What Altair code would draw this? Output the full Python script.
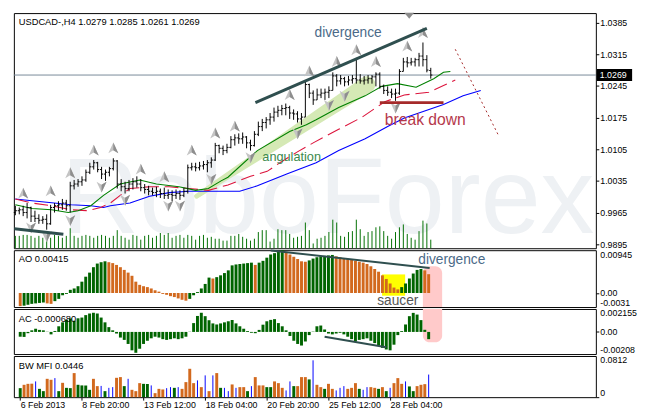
import altair as alt
import pandas as pd

# ---------------- data ----------------
bar_open = [0.9965, 0.9969, 0.9971, 0.9965, 0.9976, 0.9957, 0.9952, 0.9948, 0.9950, 0.9940,
            0.9976, 0.9980, 0.9982, 0.9986, 0.9980, 1.0024, 1.0028, 1.0033, 1.0037, 1.0054,
            1.0066, 1.0075, 1.0060, 1.0050, 1.0054, 1.0062, 1.0079, 1.0028, 1.0022, 1.0018,
            1.0028, 1.0033, 1.0028, 1.0020, 1.0016, 1.0012, 1.0009, 1.0012, 1.0007, 1.0003,
            1.0005, 1.0003, 1.0007, 1.0003, 1.0012, 1.0064, 1.0066, 1.0064, 1.0068, 1.0071,
            1.0075, 1.0081, 1.0113, 1.0107, 1.0102, 1.0109, 1.0126, 1.0130, 1.0128, 1.0132,
            1.0119, 1.0113, 1.0138, 1.0155, 1.0164, 1.0170, 1.0176, 1.0187, 1.0191, 1.0195,
            1.0197, 1.0185, 1.0183, 1.0172, 1.0176, 1.0248, 1.0229, 1.0214, 1.0225, 1.0229,
            1.0231, 1.0235, 1.0267, 1.0256, 1.0261, 1.0254, 1.0258, 1.0261, 1.0258, 1.0256,
            1.0258, 1.0261, 1.0265, 1.0271, 1.0244, 1.0235, 1.0231, 1.0227, 1.0229, 1.0277,
            1.0298, 1.0296, 1.0298, 1.0303, 1.0311, 1.0303, 1.0279]
bar_high = [0.9980, 0.9976, 0.9980, 0.9986, 0.9978, 0.9969, 0.9961, 0.9957, 0.9961, 0.9982,
            0.9986, 0.9990, 0.9995, 0.9993, 1.0033, 1.0037, 1.0039, 1.0045, 1.0060, 1.0075,
            1.0081, 1.0077, 1.0066, 1.0060, 1.0066, 1.0085, 1.0081, 1.0039, 1.0033, 1.0037,
            1.0041, 1.0045, 1.0039, 1.0028, 1.0024, 1.0020, 1.0022, 1.0018, 1.0020, 1.0016,
            1.0014, 1.0016, 1.0014, 1.0020, 1.0071, 1.0075, 1.0075, 1.0077, 1.0079, 1.0081,
            1.0087, 1.0119, 1.0115, 1.0113, 1.0117, 1.0134, 1.0138, 1.0140, 1.0142, 1.0134,
            1.0126, 1.0145, 1.0166, 1.0172, 1.0176, 1.0185, 1.0197, 1.0201, 1.0203, 1.0206,
            1.0201, 1.0193, 1.0189, 1.0185, 1.0254, 1.0250, 1.0235, 1.0239, 1.0239, 1.0239,
            1.0244, 1.0275, 1.0271, 1.0269, 1.0265, 1.0267, 1.0269, 1.0307, 1.0271, 1.0267,
            1.0269, 1.0269, 1.0275, 1.0275, 1.0248, 1.0244, 1.0239, 1.0239, 1.0282, 1.0307,
            1.0309, 1.0307, 1.0307, 1.0318, 1.0341, 1.0313, 1.0285]
bar_low = [0.9959, 0.9961, 0.9957, 0.9952, 0.9944, 0.9944, 0.9940, 0.9940, 0.9927, 0.9938,
           0.9965, 0.9969, 0.9971, 0.9969, 0.9965, 1.0016, 1.0022, 1.0024, 1.0033, 1.0050,
           1.0060, 1.0054, 1.0039, 1.0035, 1.0045, 1.0058, 1.0018, 1.0012, 1.0007, 1.0012,
           1.0016, 1.0020, 1.0012, 1.0007, 1.0003, 1.0003, 0.9999, 0.9997, 0.9995, 0.9995,
           0.9990, 0.9995, 0.9993, 0.9999, 1.0007, 1.0058, 1.0056, 1.0058, 1.0060, 1.0054,
           1.0064, 1.0079, 1.0096, 1.0092, 1.0096, 1.0107, 1.0113, 1.0117, 1.0117, 1.0107,
           1.0102, 1.0111, 1.0134, 1.0145, 1.0151, 1.0159, 1.0166, 1.0176, 1.0180, 1.0180,
           1.0172, 1.0170, 1.0164, 1.0159, 1.0176, 1.0218, 1.0203, 1.0214, 1.0218, 1.0214,
           1.0218, 1.0235, 1.0244, 1.0248, 1.0244, 1.0246, 1.0250, 1.0250, 1.0250, 1.0248,
           1.0250, 1.0250, 1.0244, 1.0239, 1.0227, 1.0223, 1.0218, 1.0212, 1.0225, 1.0277,
           1.0286, 1.0290, 1.0288, 1.0288, 1.0288, 1.0275, 1.0261]
bar_close = [0.9969, 0.9971, 0.9965, 0.9976, 0.9957, 0.9952, 0.9948, 0.9950, 0.9940, 0.9976,
             0.9980, 0.9982, 0.9986, 0.9980, 1.0024, 1.0028, 1.0033, 1.0037, 1.0054, 1.0066,
             1.0075, 1.0060, 1.0050, 1.0054, 1.0062, 1.0079, 1.0028, 1.0022, 1.0018, 1.0028,
             1.0033, 1.0028, 1.0020, 1.0016, 1.0012, 1.0009, 1.0012, 1.0007, 1.0003, 1.0005,
             1.0003, 1.0007, 1.0003, 1.0012, 1.0064, 1.0066, 1.0064, 1.0068, 1.0071, 1.0075,
             1.0081, 1.0113, 1.0107, 1.0102, 1.0109, 1.0126, 1.0130, 1.0128, 1.0132, 1.0119,
             1.0113, 1.0138, 1.0155, 1.0164, 1.0170, 1.0176, 1.0187, 1.0191, 1.0195, 1.0197,
             1.0185, 1.0183, 1.0172, 1.0176, 1.0248, 1.0229, 1.0214, 1.0225, 1.0229, 1.0231,
             1.0235, 1.0267, 1.0256, 1.0261, 1.0254, 1.0258, 1.0261, 1.0258, 1.0256, 1.0258,
             1.0261, 1.0265, 1.0271, 1.0244, 1.0235, 1.0231, 1.0227, 1.0229, 1.0277, 1.0298,
             1.0296, 1.0298, 1.0303, 1.0311, 1.0303, 1.0280, 1.0269]
volume = [1300, 1300, 1400, 1400, 1300, 1100, 1300, 1100, 1300, 1100,
          1400, 1300, 1100, 1300, 2100, 1300, 1100, 1300, 1400, 1300,
          1100, 1300, 1400, 1300, 1100, 1300, 1900, 1300, 1100, 900,
          1400, 1300, 900, 1300, 1400, 1100, 1300, 1600, 1400, 1600,
          1100, 1300, 1400, 1100, 1400, 1300, 900, 1300, 1400, 1100,
          1200, 1000, 1000, 800, 800, 1300, 1300, 1500, 1200, 1000,
          800, 1000, 1700, 1900, 1900, 700, 1000, 2000, 1900, 1900,
          1500, 1100, 1200, 1300, 2700, 1900, 500, 1000, 1100, 1300,
          1700, 3000, 2700, 1300, 1200, 1700, 1800, 3000, 2000, 1300,
          1700, 1800, 2200, 2300, 1800, 1300, 1000, 1700, 2200, 2500,
          1500, 1100, 900, 1800, 2900, 2600, 900]

ao_values = [-0.0029, -0.0028, -0.0026, -0.0024, -0.0023, -0.0022, -0.0021, -0.0023, -0.0024, -0.0018,
             -0.0013, -0.0005, -0.0002, 0.0007, 0.0010, 0.0015, 0.0025, 0.0036, 0.0045, 0.0057,
             0.0065, 0.0068, 0.0070, 0.0068, 0.0066, 0.0062, 0.0057, 0.0051, 0.0045, 0.0038,
             0.0025, 0.0018, 0.0015, 0.0013, 0.0010, 0.0006, 0.0003, -0.0002, -0.0004, -0.0007,
             -0.0009, -0.0012, -0.0015, -0.0017, -0.0013, -0.0005, 0.0002, 0.0010, 0.0020, 0.0034,
             0.0032, 0.0035, 0.0039, 0.0044, 0.0050, 0.0061, 0.0063, 0.0064, 0.0065, 0.0066,
             0.0067, 0.0062, 0.0067, 0.0071, 0.0078, 0.0085, 0.0088, 0.0092, 0.00945, 0.0091,
             0.0085, 0.0080, 0.0075, 0.0070, 0.0069, 0.0072, 0.0076, 0.0079, 0.0081, 0.0082,
             0.0083, 0.0084, 0.0081, 0.0079, 0.0077, 0.0075, 0.0073, 0.0071, 0.0069, 0.0067,
             0.0064, 0.0059, 0.0053, 0.0047, 0.0039, 0.0031, 0.0021, 0.0012, 0.0008, 0.0013,
             0.0021, 0.0032, 0.0043, 0.0051, 0.0053, 0.0050, 0.00415]
ao_colors = list("oggggggoog" "gggggggggg" "gggooooooo" "oooooooooo" "oooogggggg"
                 "oggggggggg" "gogggggggo" "oooooggggg" "ggoooooooo" "ooooooooog" "gggggoo")

ac_values = [-0.00045, -0.00047, -0.00012, 0.00015, 0.00030, 0.00019, 0.00015, 0.00002, -0.00023, 0.00009,
             0.00053, 0.00090, 0.00113, 0.00128, 0.00105, 0.00128, 0.00135, 0.00158, 0.00173, 0.00180,
             0.00173, 0.00135, 0.00090, 0.00045, 0.00015, -0.00015, -0.00053, -0.00075, -0.00113, -0.00173,
             -0.00196, -0.00158, -0.00113, -0.00083, -0.00060, -0.00045, -0.00053, -0.00068, -0.00075, -0.00068,
             -0.00060, -0.00068, -0.00060, -0.00045, 0.00002, 0.00083, 0.00150, 0.00180, 0.00148, 0.00110,
             0.00080, 0.00070, 0.00080, 0.00090, 0.00100, 0.00112, 0.00080, 0.00053, 0.00030, 0.00008,
             -0.00008, -0.00012, 0.00019, 0.00068, 0.00100, 0.00113, 0.00120, 0.00083, 0.00053, 0.00015,
             -0.00038, -0.00083, -0.00113, -0.00128, -0.00090, -0.00030, 0.00003, 0.00053, 0.00060, 0.00023,
             -0.00015, -0.00023, -0.00015, -0.00008, -0.00023, -0.00045, -0.00068, -0.00090, -0.00075, -0.00068,
             -0.00060, -0.00083, -0.00105, -0.00128, -0.00150, -0.00165, -0.00173, -0.00120, -0.00030, 0.00008,
             0.00070, 0.00148, 0.00179, 0.00163, 0.00111, 0.00020, -0.00068]
ac_colors = list("rrgggrrrrg" "ggggrggggg" "rrrrrrrrrr" "rgggggrrrg" "grggggggrr"
                 "rrggggrrrr" "rrgggggrrr" "rrrrgggggr" "rrggrrrrgg" "grrrrrrggg" "gggrrrr")

mfi_values = [0.0178, 0.0244, 0.0263, 0.0266, 0.0311, 0.0164, 0.0119, 0.0362, 0.0343, 0.0376,
              0.0119, 0.0283, 0.0184, 0.0178, 0.0475, 0.0244, 0.0232, 0.0230, 0.0145, 0.0362,
              0.0218, 0.0222, 0.0119, 0.0184, 0.0198, 0.0382, 0.0396, 0.0218, 0.0362, 0.0145,
              0.0119, 0.0277, 0.0263, 0.0260, 0.0232, 0.0079, 0.0164, 0.0152, 0.0178, 0.0198,
              0.0184, 0.0198, 0.0164, 0.0297, 0.0560, 0.0277, 0.0331, 0.0198, 0.0430, 0.0119,
              0.0430, 0.0475, 0.0184, 0.0184, 0.0119, 0.0251, 0.0184, 0.0198, 0.0198, 0.0119,
              0.0218, 0.0396, 0.0232, 0.0232, 0.0198, 0.0198, 0.0311, 0.0277, 0.0184, 0.0133,
              0.0311, 0.0218, 0.0218, 0.0396, 0.0396, 0.0350, 0.0727, 0.0244, 0.0198, 0.0164,
              0.0263, 0.0164, 0.0133, 0.0184, 0.0218, 0.0164, 0.0184, 0.0277, 0.0164, 0.0145,
              0.0198, 0.0198, 0.0184, 0.0164, 0.0198, 0.0119, 0.0184, 0.0277, 0.0376, 0.0263,
              0.0311, 0.0212, 0.0119, 0.0218, 0.0244, 0.0257, 0.0446]
mfi_colors = list("FGGGKFFGSK" "FGFFGFFFFG" "SKFKKGGFKS" "SGFFKSSSKK" "FKGGGSKSKS"
                  "KGFKKGKSSF" "KGSSFFGSSK" "KFGGGFKSSF" "GSKKKSSGFK" "KSSFGFKGGS" "KFFGGGK")

jaw_index = [0, 4.25, 14.25, 19.25, 22.5, 24.25, 29.25, 34.25, 39.25, 44.25, 49.25, 57.25,
             61.75, 69.25, 76.75, 82.5, 89.25, 95, 99.25, 104.25, 109.25, 114.25, 118.75]
jaw_price = [0.9995, 0.9991, 0.9982, 0.9980, 0.9976, 0.9980, 0.9986, 1.0001, 1.0009, 1.0012, 1.0012, 1.0012,
             1.0024, 1.0050, 1.0075, 1.0102, 1.0128, 1.0155, 1.0174, 1.0189, 1.0204, 1.0223, 1.0235]
teeth_index = [0, 4.25, 9.25, 14.25, 18.5, 21.75, 24.25, 26.75, 29.25, 34.25, 39.25, 44.25, 49.25,
               54.25, 60, 64.25, 67.5, 71.75, 76, 82.5, 88.5, 94.25, 99.25, 105.5, 109.25, 112.25]
teeth_price = [0.9995, 0.9986, 0.9980, 0.9971, 0.9969, 0.9976, 0.9986, 1.0003, 1.0018, 1.0022, 1.0022, 1.0018, 1.0014,
               1.0026, 1.0045, 1.0056, 1.0075, 1.0098, 1.0119, 1.0149, 1.0176, 1.0210, 1.0225, 1.0231, 1.0246, 1.0258]
lips_index = [0, 4.25, 9.25, 13.5, 16, 19.25, 22.5, 26.75, 31.75, 36, 41.75, 46, 49.25, 52.5,
              54.25, 61.75, 70, 74.25, 76.75, 82.5, 89.25, 93.5, 97.5, 102.25, 106.75, 109.25, 111]
lips_price = [0.9982, 0.9974, 0.9971, 0.9965, 0.9969, 0.9980, 1.0003, 1.0028, 1.0037, 1.0028, 1.0022, 1.0014, 1.0018, 1.0035,
              1.0043, 1.0102, 1.0144, 1.0159, 1.0170, 1.0197, 1.0223, 1.0244, 1.0250, 1.0242, 1.0261, 1.0275, 1.0277]

frac_up_index = [2, 9, 14, 20, 25, 32, 38, 45, 51, 56, 70, 75, 82, 87, 92, 100, 104]
frac_up_level = [1.0007, 1.0012, 1.0052, 1.0102, 1.0107, 1.0060, 1.0043, 1.0102, 1.0140, 1.0155,
                 1.0225, 1.0277, 1.0298, 1.0324, 1.0298, 1.0332, 1.0362]
frac_dn_index = [4, 8, 14, 22, 28, 39, 42, 50, 60, 72, 80, 84, 97]
frac_dn_level = [0.9932, 0.9912, 0.9948, 1.0022, 0.9993, 0.9980, 0.9980, 1.0039, 1.0087, 1.0140,
                 1.0203, 1.0223, 1.0197]

price_ticks = [0.9895, 0.9965, 1.0035, 1.0105, 1.0175, 1.0245, 1.0315, 1.0385]
x_tick_index = [0, 16, 32, 48, 64, 80, 96]
x_tick_labels = ["6 Feb 2013", "8 Feb 20:00", "13 Feb 12:00", "18 Feb 04:00",
                 "20 Feb 20:00", "25 Feb 12:00", "28 Feb 04:00"]
ao_ticks, ao_tick_labels = [-0.0031, 0, 0.00945], ["-0.0031", "0.00", "0.00945"]
ac_ticks, ac_tick_labels = [-0.00208, 0, 0.002155], ["-0.00208", "0.00", "0.002155"]
mfi_ticks, mfi_tick_labels = [0, 0.0812], ["0", "0.0812"]

# annotations (bar index, price / indicator value)
div_line_i, div_line_p = [61.25, 105], [1.0208, 1.0372]
low_line_i, low_line_p = [-0.25, 12.25], [0.9929, 0.9917]
brk_line_i, brk_line_p = [93, 109.25], [1.0208, 1.0208]
dot_line_i, dot_line_p = [112.25, 123.25], [1.0326, 1.0136]
band_i, band_p, band_w = [46.25, 89.75], [1.0001, 1.0248], [5, 17]
ao_div_i, ao_div_v = [65, 106.25], [0.0094, 0.0055]
ac_div_i, ac_div_v = [79, 95], [-0.00045, -0.00144]

# ---------------- layout ----------------
W = 594
H_MAIN, H_AO, H_AC, H_MFI = 240, 58, 46, 42
FONT = "Liberation Sans"

N = len(bar_close)
bars = pd.DataFrame({"i": list(range(N)), "o": bar_open, "h": bar_high, "l": bar_low,
                     "c": bar_close, "vol": volume})
bars["xo"] = bars["i"] - 0.4
bars["xc"] = bars["i"] + 0.4

xs = alt.Scale(domain=[-0.375, 148.125], nice=False, zero=False)
ys = alt.Scale(domain=[0.9886, 1.0406], nice=False, zero=False)


def label_expr(vals, labs):
    parts = [f"datum.value == {v} ? '{l}'" for v, l in zip(vals, labs)]
    return " : ".join(parts) + " : ''"


def sub_axis(vals, labs, lo, hi):
    return alt.Axis(orient="right", values=vals, labelExpr=label_expr(vals, labs),
                    labelBaseline={"condition": [{"test": f"datum.value >= {hi}", "value": "top"},
                                                 {"test": f"datum.value <= {lo}", "value": "bottom"}],
                                   "value": "middle"},
                    tickColor={"condition": {"test": "datum.value == 0", "value": "black"},
                               "value": "transparent"},
                    tickSize=3, labelPadding=1, domain=False, grid=False, title=None)


price_axis = alt.Axis(orient="right", values=price_ticks, format=".4f", tickSize=3,
                      labelPadding=1, domain=False, grid=False, title=None)


def X(f):
    return alt.X(f, scale=xs, axis=None)


def YP(f):
    return alt.Y(f, scale=ys, axis=price_axis)


def YB(f):
    return alt.Y(f, scale=ys, axis=None)


# ---------- main panel ----------
wm = alt.Chart(pd.DataFrame({"i": [79.75], "p": [0.9919], "t": ["RoboForex"]})).mark_text(
    font=FONT, fontSize=110, color="#eef1f4", align="center", baseline="alphabetic"
).encode(x=X("i:Q"), y=YB("p:Q"), text="t:N")

band = alt.Chart(pd.DataFrame({"i": band_i, "p": band_p, "w": band_w})).mark_trail(
    color="#d5e9b5", opacity=1
).encode(x=X("i:Q"), y=YB("p:Q"), size=alt.Size("w:Q", scale=None, legend=None))

bg = alt.layer(wm, band)

vol = alt.Chart(bars).mark_rule(color="#007000", strokeWidth=1).encode(
    x=X("i:Q"),
    y=alt.Y("vol:Q", scale=alt.Scale(domain=[0, 24700], nice=False), axis=None),
    y2=alt.datum(0))

cur = alt.Chart(pd.DataFrame({"p": [bar_close[-1]]})).mark_rule(
    color="#778899", strokeWidth=1).encode(y=YP("p:Q"))


def ma_line(ix, pr, color, dash=None):
    kw = {"color": color, "strokeWidth": 1.1}
    if dash:
        kw["strokeDash"] = dash
    return alt.Chart(pd.DataFrame({"i": ix, "p": pr})).mark_line(**kw).encode(
        x=X("i:Q"), y=YP("p:Q"))


jaw = ma_line(jaw_index, jaw_price, "#0000ff")
teeth = ma_line(teeth_index, teeth_price, "#dc143c", [14, 6])
lips = ma_line(lips_index, lips_price, "#008000")

hl = alt.Chart(bars).mark_rule(color="black", strokeWidth=1).encode(
    x=X("i:Q"), y=YP("l:Q"), y2="h:Q")
ot = alt.Chart(bars).mark_rule(color="black", strokeWidth=1).encode(
    x=X("xo:Q"), x2="i:Q", y=YP("o:Q"))
ct = alt.Chart(bars).mark_rule(color="black", strokeWidth=1).encode(
    x=X("i:Q"), x2="xc:Q", y=YP("c:Q"))

up_df = pd.DataFrame({"i": frac_up_index, "p": frac_up_level})
dn_df = pd.DataFrame({"i": frac_dn_index, "p": frac_dn_level})
UP_FULL = "M0,-1L0.85,0.85L0,0.35L-0.85,0.85Z"
UP_HALF = "M0,-1L0.85,0.85L0,0.35Z"
DN_FULL = "M0,1L0.85,-0.85L0,-0.35L-0.85,-0.85Z"
DN_HALF = "M0,1L0.85,-0.85L0,-0.35Z"


def arrow(df, shape, fill):
    return alt.Chart(df).mark_point(shape=shape, filled=True, fill=fill, size=144,
                                    opacity=1, strokeWidth=0).encode(x=X("i:Q"), y=YP("p:Q"))


fr = [arrow(up_df, UP_FULL, "#c4c4c4"), arrow(up_df, UP_HALF, "#8e8e8e"),
      arrow(dn_df, DN_FULL, "#c4c4c4"), arrow(dn_df, DN_HALF, "#8e8e8e")]


def seg(ix, pr, color, width, dash=None):
    kw = {"color": color, "strokeWidth": width}
    if dash:
        kw["strokeDash"] = dash
    return alt.Chart(pd.DataFrame({"i": ix, "p": pr})).mark_line(**kw).encode(
        x=X("i:Q"), y=YP("p:Q"))


lines = [seg(div_line_i, div_line_p, "#2f4f4f", 3),
         seg(low_line_i, low_line_p, "#2f4f4f", 3),
         seg(brk_line_i, brk_line_p, "#a52a2a", 3),
         seg(dot_line_i, dot_line_p, "#a52a2a", 1, [2, 3])]

ann = pd.DataFrame({
    "t": ["divergence", "angulation", "break down"],
    "i": [84.9, 70.5, 104.6],
    "p": [1.0362, 1.0087, 1.0170],
    "col": ["#4b6a88", "#3a8a4c", "#b5384b"],
    "fs": [14, 13, 16],
})
ann_t = alt.Chart(ann).mark_text(font=FONT, align="center", baseline="middle").encode(
    x=X("i:Q"), y=YP("p:Q"), text="t:N",
    color=alt.Color("col:N", scale=None), size=alt.Size("fs:Q", scale=None))

shift = alt.Chart(pd.DataFrame({"i": [100.5], "p": [1.0400]})).mark_point(
    shape="M-1,-0.6L1,-0.6L0,0.6Z", filled=True, fill="#8c8c8c", size=100, opacity=1,
    strokeWidth=0).encode(x=X("i:Q"), y=YP("p:Q"))

last_df = pd.DataFrame({"p": [bar_close[-1]], "t": [f"{bar_close[-1]:.4f}"]})
box = alt.Chart(last_df).mark_point(
    shape="M-1,-0.34L1,-0.34L1,0.34L-1,0.34Z", filled=True, fill="black", size=1296,
    opacity=1, strokeWidth=0).encode(x=alt.value(W + 19), y=YP("p:Q"))
box_t = alt.Chart(last_df).mark_text(font=FONT, fontSize=9, color="white", align="left",
                                     baseline="middle").encode(
    x=alt.value(W + 4), y=YP("p:Q"), text="t:N")

title_txt = (f"USDCAD-,H4  {bar_open[-1]:.4f} {bar_high[-1]:.4f} "
             f"{bar_low[-1]:.4f} {bar_close[-1]:.4f}")
title = alt.Chart(pd.DataFrame({"t": [title_txt]})).mark_text(
    font=FONT, fontSize=9.5, color="black", align="left", baseline="middle").encode(
    x=alt.value(5), y=alt.value(9), text="t:N")

fg = alt.layer(cur, jaw, teeth, lips, hl, ot, ct, *fr, *lines, ann_t, shift, box, box_t, title)

main = alt.layer(bg, vol, fg).resolve_scale(y="independent").properties(width=W, height=H_MAIN)

# ---------- AO ----------
ao_scale = alt.Scale(domain=[-0.0031, 0.00945], nice=False, zero=False)
ao_axis = sub_axis(ao_ticks, ao_tick_labels, -0.0031, 0.00945)
ao_df = pd.DataFrame({"i": list(range(N)), "v": ao_values, "c": ao_colors})


def YA(f):
    return alt.Y(f, scale=ao_scale, axis=ao_axis)


ao_pink = alt.Chart(pd.DataFrame({"x1": [104.5], "x2": [109.5], "y1": [0.0059], "y2": [-0.0031]})).mark_rect(
    color="#ffcaca", opacity=1, cornerRadiusTopLeft=7, cornerRadiusTopRight=7).encode(
    x=X("x1:Q"), x2="x2:Q", y=YA("y1:Q"), y2="y2:Q")
ao_yel = alt.Chart(pd.DataFrame({"x1": [93.9], "x2": [99.9], "y1": [0.0041], "y2": [-0.0006]})).mark_rect(
    color="#ffff00", opacity=1).encode(x=X("x1:Q"), x2="x2:Q", y=YA("y1:Q"), y2="y2:Q")
ao_bars = alt.Chart(ao_df).mark_bar(size=3, opacity=1).encode(
    x=X("i:Q"), y=YA("v:Q"), y2=alt.datum(0),
    color=alt.Color("c:N", scale=alt.Scale(domain=["g", "o"], range=["#006400", "#d2691e"]), legend=None))
ao_line = alt.Chart(pd.DataFrame({"i": ao_div_i, "v": ao_div_v})).mark_line(
    color="#2f4f4f", strokeWidth=2).encode(x=X("i:Q"), y=YA("v:Q"))
ao_ann = pd.DataFrame({"t": ["divergence", "saucer"], "i": [112, 98], "v": [0.0072, -0.0018],
                       "col": ["#4b6a88", "#555555"]})
ao_ann_t = alt.Chart(ao_ann).mark_text(font=FONT, fontSize=14, align="center", baseline="middle").encode(
    x=X("i:Q"), y=YA("v:Q"), text="t:N", color=alt.Color("col:N", scale=None))
ao_lab = alt.Chart(pd.DataFrame({"t": [f"AO {ao_values[-1]:.5f}"]})).mark_text(
    font=FONT, fontSize=9.5, color="black", align="left", baseline="middle").encode(
    x=alt.value(5), y=alt.value(9), text="t:N")
ao = alt.layer(ao_pink, ao_yel, ao_bars, ao_line, ao_ann_t, ao_lab).properties(width=W, height=H_AO)

# ---------- AC ----------
ac_scale = alt.Scale(domain=[-0.00208, 0.002155], nice=False, zero=False)
ac_axis = sub_axis(ac_ticks, ac_tick_labels, -0.00208, 0.002155)
ac_df = pd.DataFrame({"i": list(range(N)), "v": ac_values, "c": ac_colors})


def YC(f):
    return alt.Y(f, scale=ac_scale, axis=ac_axis)


ac_pink = alt.Chart(pd.DataFrame({"x1": [104.5], "x2": [109.5], "y1": [0.002155], "y2": [-0.00098]})).mark_rect(
    color="#ffcaca", opacity=1, cornerRadiusBottomLeft=7, cornerRadiusBottomRight=7).encode(
    x=X("x1:Q"), x2="x2:Q", y=YC("y1:Q"), y2="y2:Q")
ac_bars = alt.Chart(ac_df).mark_bar(size=3, opacity=1).encode(
    x=X("i:Q"), y=YC("v:Q"), y2=alt.datum(0),
    color=alt.Color("c:N", scale=alt.Scale(domain=["g", "r"], range=["#008000", "#dc143c"]), legend=None))
ac_line = alt.Chart(pd.DataFrame({"i": ac_div_i, "v": ac_div_v})).mark_line(
    color="#2f4f4f", strokeWidth=2).encode(x=X("i:Q"), y=YC("v:Q"))
ac_lab = alt.Chart(pd.DataFrame({"t": [f"AC {ac_values[-1]:.6f}"]})).mark_text(
    font=FONT, fontSize=9.5, color="black", align="left", baseline="middle").encode(
    x=alt.value(5), y=alt.value(10), text="t:N")
ac = alt.layer(ac_pink, ac_bars, ac_line, ac_lab).properties(width=W, height=H_AC)

# ---------- BW MFI ----------
mfi_scale = alt.Scale(domain=[0, 0.0812], nice=False, zero=False)
mfi_axis = sub_axis(mfi_ticks, mfi_tick_labels, 0, 0.0812)
x_axis = alt.Axis(values=x_tick_index, labelExpr=label_expr(x_tick_index, x_tick_labels),
                  tickSize=3, labelPadding=1, labelAlign="left", labelFlush=False,
                  labelOverlap=False, domain=False, grid=False, title=None)
mfi_df = pd.DataFrame({"i": list(range(N)), "v": mfi_values, "c": mfi_colors})


def XM(f):
    return alt.X(f, scale=xs, axis=x_axis)


def YM(f):
    return alt.Y(f, scale=mfi_scale, axis=mfi_axis)


mfi_bars = alt.Chart(mfi_df).transform_filter("datum.c != 'K'").mark_bar(size=3, opacity=1).encode(
    x=XM("i:Q"), y=YM("v:Q"), y2=alt.datum(0),
    color=alt.Color("c:N", scale=alt.Scale(domain=["G", "F", "S"],
                                           range=["#2e8b57", "#b8860b", "#dc143c"]), legend=None))
mfi_fake = alt.Chart(mfi_df).transform_filter("datum.c == 'K'").mark_rule(
    color="#0000ff", strokeWidth=1).encode(x=XM("i:Q"), y=YM("v:Q"), y2=alt.datum(0))
mfi_lab = alt.Chart(pd.DataFrame({"t": [f"BW MFI {mfi_values[-1]:.4f}"]})).mark_text(
    font=FONT, fontSize=9.5, color="black", align="left", baseline="middle").encode(
    x=alt.value(5), y=alt.value(10), text="t:N")
mfi = alt.layer(mfi_bars, mfi_fake, mfi_lab).properties(width=W, height=H_MFI)

chart = alt.vconcat(main, ao, ac, mfi, spacing=2, bounds="flush").properties(
    padding=0, background="white"
).configure_view(stroke="black", strokeWidth=1).configure_axis(
    labelFont=FONT, labelFontSize=9, labelColor="black", tickColor="black",
    domain=False, grid=False)

chart.save("out.html", embed_options={"renderer": "svg", "actions": False})
